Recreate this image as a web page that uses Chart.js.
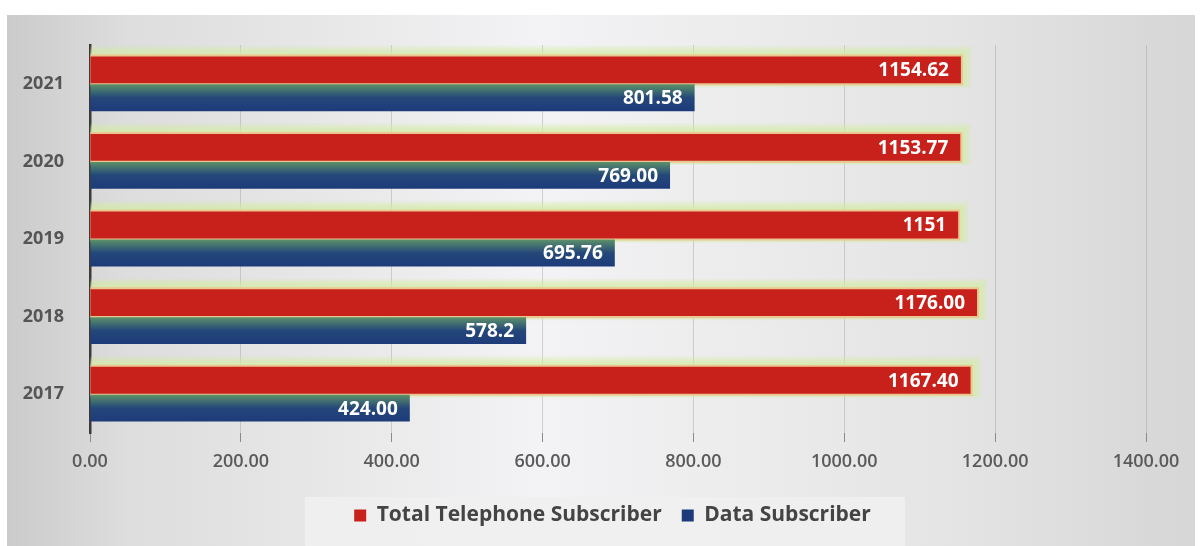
<!DOCTYPE html>
<html>
<head>
<meta charset="utf-8">
<script src="https://cdn.jsdelivr.net/npm/chart.js@4.4.1/dist/chart.umd.min.js"></script>
<style>
  html, body { margin: 0; padding: 0; background: #fff; }
  #wrap { width: 1200px; height: 546px; }
</style>
</head>
<body>
<div id="wrap"><canvas id="subs-chart" width="1200" height="546"></canvas></div>
<script>
const years = ["2017", "2018", "2019", "2020", "2021"];
const telephoneValues = [1167.40, 1176.00, 1151, 1153.77, 1154.62];
const dataValues = [424.00, 578.2, 695.76, 769.00, 801.58];
const telephoneLabels = ["1167.40", "1176.00", "1151", "1153.77", "1154.62"];
const dataLabels = ["424.00", "578.2", "695.76", "769.00", "801.58"];
const xTicks = [0, 200, 400, 600, 800, 1000, 1200, 1400];

const FONT = "'Open Sans', sans-serif";
const CAT_PCT = 0.72;

const canvas = document.getElementById("subs-chart");

// gray panel behind everything + legend box
const backdrop = {
  id: "backdrop",
  // legend sits a little right of centre in the original
  afterLayout(chart) {
    if (chart.legend) {
      chart.legend.left += 36;
      chart.legend.right += 36;
    }
  },
  beforeDraw(chart) {
    const ctx = chart.ctx;
    ctx.save();
    ctx.fillStyle = "#ffffff";
    ctx.fillRect(0, 0, chart.width, chart.height);
    const g = ctx.createLinearGradient(7, 0, 1195, 0);
    g.addColorStop(0, "#cbcbcb");
    g.addColorStop(0.1, "#dddddd");
    g.addColorStop(0.45, "#f3f3f5");
    g.addColorStop(0.8, "#e4e4e4");
    g.addColorStop(1, "#d6d6d6");
    ctx.fillStyle = g;
    ctx.fillRect(7, 15, 1188, 531);
    const lg = chart.legend;
    if (lg) {
      ctx.fillStyle = "rgba(240,240,240,0.9)";
      ctx.fillRect(305, lg.top + 12, 600, chart.height - lg.top);
    }
    ctx.restore();
  }
};

// soft green halo around the red bars, drawn from the bar elements
const glow = {
  id: "glow",
  beforeDatasetsDraw(chart) {
    const ctx = chart.ctx;
    ctx.save();
    chart.getDatasetMeta(0).data.forEach(bar => {
      const p = bar.getProps(["x", "y", "base", "height"], true);
      const left = Math.min(p.x, p.base);
      const right = Math.max(p.x, p.base);
      const top = p.y - p.height / 2;
      for (let m = 11; m >= 1; m--) {
        ctx.fillStyle = "rgba(214,238,165," + (0.11 + (11 - m) * 0.01) + ")";
        ctx.fillRect(left, top - m, right - left + m, p.height + m * 1.4);
      }
      ctx.fillStyle = "rgba(240,190,140,0.85)";
      ctx.fillRect(left, top - 2, right - left + 2, p.height + 4);
    });
    ctx.restore();
  }
};

// value text inside the end of each bar
const valueText = {
  id: "valueText",
  afterDatasetsDraw(chart) {
    const ctx = chart.ctx;
    ctx.save();
    ctx.fillStyle = "#ffffff";
    ctx.font = "bold 19px " + FONT;
    ctx.textAlign = "right";
    ctx.textBaseline = "middle";
    const texts = [telephoneLabels, dataLabels];
    chart.data.datasets.forEach((ds, i) => {
      chart.getDatasetMeta(i).data.forEach((bar, j) => {
        ctx.fillText(texts[i][j], bar.x - 12, bar.y + 1);
      });
    });
    ctx.restore();
  }
};

function blueFill(c) {
  const chart = c.chart;
  const y = chart.scales.y;
  if (!chart.chartArea || !y || c.dataIndex === undefined) return "#1f3d7a";
  const yc = y.getPixelForValue(c.dataIndex);
  const catH = y.height / years.length;
  const g = chart.ctx.createLinearGradient(0, yc, 0, yc + catH * CAT_PCT / 2);
  g.addColorStop(0, "#5f9468");
  g.addColorStop(0.5, "#24477a");
  g.addColorStop(1, "#1d3a7a");
  return g;
}

let subsChart = new Chart(canvas, {
  type: "bar",
  data: {
    labels: years,
    datasets: [{
      label: "Total Telephone Subscriber",
      data: telephoneValues,
      backgroundColor: "#c8201b",
      borderWidth: 0,
      categoryPercentage: CAT_PCT,
      barPercentage: 0.96
    }, {
      label: "Data Subscriber",
      data: dataValues,
      backgroundColor: blueFill,
      borderWidth: 0,
      categoryPercentage: CAT_PCT,
      barPercentage: 0.96
    }]
  },
  options: {
    indexAxis: "y",
    responsive: false,
    animation: false,
    layout: { padding: { left: 7, right: 54, top: 45, bottom: 10 } },
    scales: {
      x: {
        min: 0,
        max: 1400,
        afterBuildTicks: s => { s.ticks = xTicks.map(v => ({ value: v })); },
        afterFit: s => { s.height = 52; },
        ticks: {
          callback: v => Number(v).toFixed(2),
          color: "#5a5a5a",
          font: { family: FONT, size: 18, weight: "600" },
          padding: 9,
          maxRotation: 0
        },
        grid: {
          color: "rgba(140,140,140,0.35)",
          tickColor: "#8a8a8a",
          tickLength: 9
        },
        border: { display: false }
      },
      y: {
        reverse: true,
        afterFit: s => { s.width = 83; },
        ticks: {
          color: "#555555",
          font: { family: FONT, size: 18, weight: "bold" },
          padding: 18
        },
        grid: { display: false },
        border: { color: "#3a3a3a", width: 2.5 }
      }
    },
    plugins: {
      legend: {
        position: "bottom",
        labels: {
          color: "#444444",
          font: { family: FONT, size: 21, weight: "bold" },
          boxWidth: 12,
          boxHeight: 12,
          padding: 20
        }
      },
      tooltip: { enabled: false }
    }
  },
  plugins: [backdrop, glow, valueText]
});
</script>
</body>
</html>
